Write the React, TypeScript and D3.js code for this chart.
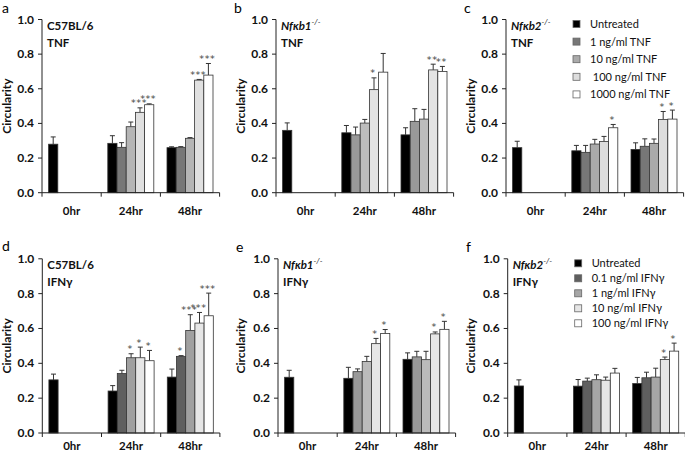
import React from "react";
import * as d3 from "d3";

const categories = ["0hr", "24hr", "48hr"];
const yTicks = [0, 0.2, 0.4, 0.6, 0.8, 1.0];
const tnfLegend = ["Untreated", "1 ng/ml TNF", "10 ng/ml TNF", " 100 ng/ml TNF", "1000 ng/ml TNF"];
const ifnLegend = ["Untreated", "0.1 ng/ml IFNγ", "1 ng/ml IFNγ", "10 ng/ml IFNγ", "100 ng/ml IFNγ"];

// order: 0hr untreated, 24hr x5, 48hr x5
const aMean = [0.28, 0.285, 0.262, 0.381, 0.464, 0.508, 0.26, 0.262, 0.314, 0.65, 0.679];
const aErr = [0.042, 0.044, 0.027, 0.027, 0.026, 0.005, 0.005, 0.004, 0.004, 0.004, 0.067];
const aStars = ["", "", "", "", "***", "***", "", "", "", "***", "***"];

const bMean = [0.36, 0.346, 0.334, 0.402, 0.595, 0.696, 0.334, 0.412, 0.425, 0.709, 0.70];
const bErr = [0.043, 0.042, 0.045, 0.021, 0.068, 0.108, 0.041, 0.073, 0.056, 0.033, 0.029];
const bStars = ["", "", "", "", "*", "", "", "", "", "**", "**"];

const cMean = [0.26, 0.242, 0.233, 0.281, 0.296, 0.375, 0.25, 0.268, 0.285, 0.423, 0.425];
const cErr = [0.037, 0.031, 0.04, 0.027, 0.029, 0.019, 0.038, 0.043, 0.025, 0.046, 0.052];
const cStars = ["", "", "", "", "", "*", "", "", "", "*", "*"];

const dMean = [0.305, 0.241, 0.341, 0.432, 0.432, 0.415, 0.321, 0.44, 0.589, 0.631, 0.673];
const dErr = [0.033, 0.031, 0.019, 0.023, 0.061, 0.059, 0.046, 0.004, 0.09, 0.061, 0.13];
const dStars = ["", "", "", "*", "*", "*", "", "*", "***", "***", "***"];

const eMean = [0.32, 0.314, 0.352, 0.41, 0.513, 0.571, 0.423, 0.437, 0.421, 0.569, 0.595];
const eErr = [0.04, 0.063, 0.016, 0.03, 0.03, 0.023, 0.037, 0.032, 0.048, 0.011, 0.046];
const eStars = ["", "", "", "", "*", "*", "", "", "", "*", "*"];

const fMean = [0.27, 0.269, 0.298, 0.306, 0.303, 0.344, 0.284, 0.317, 0.321, 0.422, 0.47];
const fErr = [0.035, 0.038, 0.017, 0.028, 0.018, 0.027, 0.035, 0.032, 0.051, 0.014, 0.046];
const fStars = ["", "", "", "", "", "", "", "", "", "*", "*"];

const FONT = "Lato, 'Open Sans', sans-serif";

type PanelProps = {
  letter: string;
  x0: number;
  top: number;
  bottom: number;
  means: number[];
  errs: number[];
  stars: string[];
  colors: string[];
  strain: string;
  strainItalic: boolean;
  treatment: string;
  legend?: string[];
  legendGap?: number;
  letterPos: [number, number];
  titleX: number;
  labelOffset: number;
};

function Panel(p: PanelProps) {
  const catW = 59.2;
  const barW = 9.2;
  const x = d3.scaleBand<string>().domain(categories).range([p.x0, p.x0 + catW * 3]).padding(0);
  const y = d3.scaleLinear().domain([0, 1]).range([p.bottom, p.top]);
  const bars: { cx: number; v: number; e: number; s: string; c: string }[] = [];
  let k = 0;
  categories.forEach((cat, ci) => {
    const n = ci === 0 ? 1 : 5;
    const start = (x(cat) as number) + catW / 2 - (5 * barW) / 2;
    for (let i = 0; i < n; i++) {
      bars.push({ cx: start + (i + 0.5) * barW, v: p.means[k], e: p.errs[k], s: p.stars[k], c: p.colors[i] });
      k++;
    }
  });
  const axisEnd = p.x0 + catW * 3;
  return (
    <g fontFamily={FONT}>
      <text x={p.letterPos[0]} y={p.letterPos[1]} fontSize={14} fill="#000">{p.letter}</text>
      {/* y axis */}
      <line x1={p.x0} x2={p.x0} y1={p.top} y2={p.bottom} stroke="#222" strokeWidth={1} />
      {yTicks.map((t) => (
        <g key={t}>
          <line x1={p.x0 - 4} x2={p.x0} y1={y(t)} y2={y(t)} stroke="#222" strokeWidth={1} />
          <text x={p.x0 - 8} y={y(t) + 4} fontSize={12} fontWeight="bold" textAnchor="end" fill="#111">
            {t.toFixed(1)}
          </text>
        </g>
      ))}
      <text
        transform={`translate(${p.titleX},${(p.top + p.bottom) / 2}) rotate(-90)`}
        fontSize={12}
        fontWeight="bold"
        textAnchor="middle"
        fill="#111"
      >
        Circularity
      </text>
      {/* bars */}
      {bars.map((b, i) => (
        <g key={i}>
          <line x1={b.cx} x2={b.cx} y1={y(b.v)} y2={y(b.v + b.e)} stroke="#333" strokeWidth={1} />
          <line x1={b.cx - 2.5} x2={b.cx + 2.5} y1={y(b.v + b.e)} y2={y(b.v + b.e)} stroke="#333" strokeWidth={1} />
          <rect
            x={b.cx - barW / 2}
            y={y(b.v)}
            width={barW}
            height={p.bottom - y(b.v)}
            fill={b.c}
            stroke="#333"
            strokeWidth={0.8}
          />
        </g>
      ))}
      {bars.map((b, i) =>
        b.s ? (
          <text
            key={"s" + i}
            x={b.cx - 1}
            y={y(b.v + b.e) - 1.5}
            fontSize={9.5}
            fontFamily="'DejaVu Sans', sans-serif"
            textAnchor="middle"
            fill="#444"
            letterSpacing={0.6}
          >
            {b.s}
          </text>
        ) : null
      )}
      {/* x axis */}
      <line x1={p.x0} x2={axisEnd} y1={p.bottom} y2={p.bottom} stroke="#222" strokeWidth={1} />
      {[0, 1, 2, 3].map((i) => (
        <line key={i} x1={p.x0 + i * catW} x2={p.x0 + i * catW} y1={p.bottom} y2={p.bottom + 4} stroke="#222" strokeWidth={1} />
      ))}
      {categories.map((c) => (
        <text
          key={c}
          x={(x(c) as number) + catW / 2}
          y={p.bottom + p.labelOffset}
          fontSize={11.5}
          fontWeight="bold"
          textAnchor="middle"
          fill="#111"
        >
          {c}
        </text>
      ))}
      {/* annotation */}
      <text x={p.x0 + 5} y={p.top + 10} fontSize={11.5} fontWeight="bold" fill="#111">
        {p.strainItalic ? (
          <>
            <tspan fontStyle="italic">{p.strain}</tspan>
            <tspan fontSize={8} dy={-5} fontStyle="italic" fontWeight="normal">-/-</tspan>
          </>
        ) : (
          p.strain
        )}
      </text>
      <text x={p.x0 + 5} y={p.top + 27} fontSize={11.5} fontWeight="bold" fill="#111">
        {p.treatment}
      </text>
      {p.legend &&
        p.legend.map((l, i) => (
          <g key={l}>
            <rect
              x={p.x0 + 67}
              y={p.top + 1 + i * (p.legendGap as number)}
              width={7}
              height={7}
              fill={p.colors[i]}
              stroke="#666"
              strokeWidth={0.8}
            />
            <text x={p.x0 + 84} y={p.top + 8.5 + i * (p.legendGap as number)} fontSize={11} fill="#111" style={{ whiteSpace: "pre" }}>
              {l}
            </text>
          </g>
        ))}
    </g>
  );
}

export default function App() {
  return (
    <svg width={685} height={454} style={{ display: "block", position: "absolute", left: 0, top: 0, background: "#fff" }}>
      <rect width={685} height={454} fill="#fff" />
      <Panel letter="a" x0={42} top={19.5} bottom={192.7} means={aMean} errs={aErr} stars={aStars}
        colors={["#000", "#777", "#b5b5b5", "#e0e0e0", "#fff"]} strain="C57BL/6" strainItalic={false} treatment="TNF"
        letterPos={[2, 13]} titleX={11} labelOffset={22} />
      <Panel letter="b" x0={276} top={19.5} bottom={192.7} means={bMean} errs={bErr} stars={bStars}
        colors={["#000", "#999", "#bdbdbd", "#e3e3e3", "#fff"]} strain="Nfκb1" strainItalic={true} treatment="TNF"
        letterPos={[234, 13]} titleX={245} labelOffset={22} />
      <Panel letter="c" x0={506} top={19.5} bottom={192.7} means={cMean} errs={cErr} stars={cStars}
        colors={["#000", "#777", "#aaa", "#ddd", "#fff"]} strain="Nfκb2" strainItalic={true} treatment="TNF"
        legend={tnfLegend} legendGap={17.6} letterPos={[464, 13]} titleX={475} labelOffset={22} />
      <Panel letter="d" x0={42.3} top={258.8} bottom={433} means={dMean} errs={dErr} stars={dStars}
        colors={["#000", "#5f5f5f", "#a0a0a0", "#e6e6e6", "#fff"]} strain="C57BL/6" strainItalic={false} treatment="IFNγ"
        letterPos={[2, 251]} titleX={11} labelOffset={17} />
      <Panel letter="e" x0={278} top={258.8} bottom={433} means={eMean} errs={eErr} stars={eStars}
        colors={["#000", "#999", "#bbb", "#e6e6e6", "#fff"]} strain="Nfκb1" strainItalic={true} treatment="IFNγ"
        letterPos={[236, 252]} titleX={245} labelOffset={17} />
      <Panel letter="f" x0={507.7} top={258.8} bottom={433} means={fMean} errs={fErr} stars={fStars}
        colors={["#000", "#5f5f5f", "#a6a6a6", "#e6e6e6", "#fff"]} strain="Nfκb2" strainItalic={true} treatment="IFNγ"
        legend={ifnLegend} legendGap={15} letterPos={[466, 252]} titleX={475} labelOffset={17} />
    </svg>
  );
}
